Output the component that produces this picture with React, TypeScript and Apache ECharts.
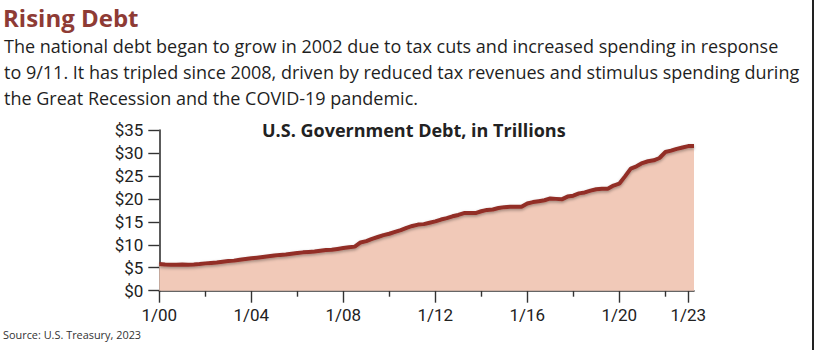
import React, { useEffect, useRef } from "react";
import * as echarts from "echarts";

// Quarterly U.S. government debt, trillions of dollars (Jan, Apr, Jul, Oct), 2000 – Apr 2023
const debt2000s: number[] = [
  5.8, 5.7, 5.65, 5.65, // 2000
  5.7, 5.65, 5.7, 5.8, // 2001
  5.95, 6.05, 6.15, 6.3, // 2002
  6.45, 6.55, 6.75, 6.9, // 2003
  7.05, 7.2, 7.35, 7.5, // 2004
  7.65, 7.8, 7.9, 8.05, // 2005
  8.2, 8.35, 8.45, 8.55, // 2006
  8.7, 8.85, 8.9, 9.1, // 2007
  9.3, 9.45, 9.6, 10.5, // 2008
  10.8, 11.3, 11.7, 12.1, // 2009
];
const debt2010s: number[] = [
  12.4, 12.8, 13.2, 13.7, // 2010
  14.1, 14.4, 14.5, 14.8, // 2011
  15.1, 15.5, 15.8, 16.2, // 2012
  16.5, 16.9, 16.9, 16.9, // 2013
  17.3, 17.6, 17.7, 18.0, // 2014
  18.2, 18.3, 18.3, 18.3, // 2015
  19.0, 19.3, 19.5, 19.7, // 2016
  20.1, 20.0, 19.9, 20.5, // 2017
  20.7, 21.2, 21.4, 21.8, // 2018
  22.1, 22.2, 22.2, 22.9, // 2019
];
const debt2020s: number[] = [
  23.3, 24.9, 26.6, 27.1, // 2020
  27.8, 28.2, 28.4, 28.9, // 2021
  30.2, 30.5, 30.9, 31.2, // 2022
  31.5, 31.5, // 2023
];
const debtValues: number[] = [...debt2000s, ...debt2010s, ...debt2020s];

const quarterMonths: number[] = [1, 4, 7, 10];
const startYear = 2000;
const categories: string[] = debtValues.map((_, i) => {
  const y = startYear + Math.floor(i / 4);
  const m = quarterMonths[i % 4];
  return `${m}/${String(y % 100).padStart(2, "0")}`;
});

const majorTickLabels: string[] = ["1/00", "1/04", "1/08", "1/12", "1/16", "1/20", "1/23"];
const minorTickLabels: string[] = ["1/02", "1/06", "1/10", "1/14", "1/18", "1/22"];
const yTicks: number[] = [0, 5, 10, 15, 20, 25, 30, 35];

const headline = "Rising Debt";
const bodyLines: string[] = [
  "The national debt began to grow in 2002 due to tax cuts and increased spending in response",
  "to 9/11. It has tripled since 2008, driven by reduced tax revenues and stimulus spending during",
  "the Great Recession and the COVID-19 pandemic.",
];
const chartTitle = "U.S. Government Debt, in Trillions";
const sourceNote = "Source: U.S. Treasury, 2023";

const AXIS_FONT = "Roboto, 'Noto Sans', sans-serif";
const TEXT_FONT = "'Open Sans', 'Noto Sans', sans-serif";

export default function App() {
  const ref = useRef<HTMLDivElement>(null);

  useEffect(() => {
    if (!ref.current) return;
    const chart = echarts.init(ref.current, null, { renderer: "svg" });
    const isMajor = (_i: number, v: string) => majorTickLabels.includes(v);
    const isMinor = (_i: number, v: string) => minorTickLabels.includes(v);

    chart.setOption({
      animation: false,
      backgroundColor: "#ffffff",
      graphic: [
        {
          type: "text",
          left: 3,
          top: 5,
          style: {
            text: headline,
            font: `bold 24px ${TEXT_FONT}`,
            fill: "#8E3B35",
          },
        },
        ...bodyLines.map((line, i) => ({
          type: "text",
          left: 4,
          top: 37 + i * 26,
          style: {
            text: line,
            font: `18px ${TEXT_FONT}`,
            fill: "#1f1f1f",
          },
        })),
        {
          type: "text",
          left: 262,
          top: 121,
          style: {
            text: chartTitle,
            font: `bold 18px ${TEXT_FONT}`,
            fill: "#222222",
          },
        },
        {
          type: "text",
          left: 3,
          top: 329,
          style: {
            text: sourceNote,
            font: `10.9px ${TEXT_FONT}`,
            fill: "#333333",
          },
        },
        {
          type: "rect",
          shape: { x: 812, y: 0, width: 2, height: 350 },
          style: { fill: "#222222" },
        },
      ],
      grid: {
        left: 159.3,
        right: 121,
        top: 130,
        bottom: 59.3,
        containLabel: false,
      },
      xAxis: [
        {
          type: "category",
          data: categories,
          boundaryGap: false,
          position: "bottom",
          axisLine: { show: true, lineStyle: { color: "#333333", width: 1.6 } },
          axisTick: {
            show: true,
            interval: isMajor,
            length: 12,
            lineStyle: { color: "#333333", width: 1.4 },
          },
          axisLabel: {
            interval: isMajor,
            margin: 16,
            fontFamily: AXIS_FONT,
            fontSize: 17,
            color: "#222222",
          },
          splitLine: { show: false },
        },
        {
          type: "category",
          data: categories,
          boundaryGap: false,
          position: "bottom",
          axisLine: { show: false },
          axisTick: {
            show: true,
            interval: isMinor,
            length: 6,
            lineStyle: { color: "#333333", width: 1.4 },
          },
          axisLabel: { show: false },
          splitLine: { show: false },
        },
      ],
      yAxis: {
        type: "value",
        min: yTicks[0],
        max: yTicks[yTicks.length - 1],
        interval: 5,
        axisLine: { show: true, lineStyle: { color: "#333333", width: 1.6 } },
        axisTick: { show: true, length: 11, lineStyle: { color: "#333333", width: 1.4 } },
        axisLabel: {
          margin: 16,
          fontFamily: AXIS_FONT,
          fontSize: 17,
          color: "#222222",
          formatter: (v: number) => `$${v}`,
        },
        splitLine: { show: false },
      },
      series: [
        {
          type: "line",
          xAxisIndex: 0,
          data: debtValues,
          showSymbol: false,
          smooth: false,
          lineStyle: {
            color: "#922E27",
            width: 4,
            shadowColor: "rgba(0,0,0,0.35)",
            shadowBlur: 3,
            shadowOffsetY: 1.5,
          },
          areaStyle: { color: "#F1C9B8", opacity: 1 },
          z: 2,
        },
      ],
    });

    return () => chart.dispose();
  }, []);

  return (
    <div
      ref={ref}
      style={{ position: "fixed", left: 0, top: 0, width: 815, height: 350 }}
    />
  );
}
